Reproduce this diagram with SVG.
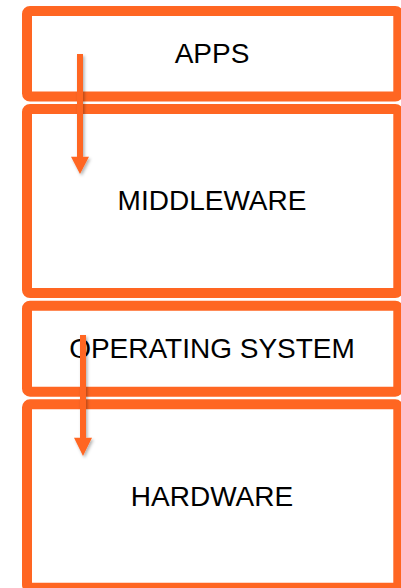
<svg xmlns="http://www.w3.org/2000/svg" width="401" height="588" viewBox="0 0 401 588">
  <style>
    .box { fill: #ffffff; stroke: #ff6622; stroke-width: 10; }
    .label { font-family: "Liberation Sans", Arial, sans-serif; font-size: 28px; fill: #000000; text-anchor: middle; }
    .arrow { fill: #ff6622; }
  </style>
  <defs>
    <filter id="shadow" x="-50%" y="-10%" width="200%" height="130%">
      <feDropShadow dx="1.5" dy="2" stdDeviation="1.5" flood-color="#000000" flood-opacity="0.3"/>
    </filter>
  </defs>

  <g id="apps">
    <rect class="box" x="27" y="11" width="371.3" height="85.5" rx="3"/>
    <text class="label" x="212" y="63.3">APPS</text>
  </g>

  <g id="middleware">
    <rect class="box" x="27" y="109" width="371.3" height="184" rx="3"/>
    <text class="label" x="212" y="210">MIDDLEWARE</text>
  </g>

  <g id="operating-system">
    <rect class="box" x="27" y="305.7" width="371.3" height="86" rx="3"/>
    <text class="label" x="212" y="358.3">OPERATING SYSTEM</text>
  </g>

  <g id="hardware">
    <rect class="box" x="27" y="404.3" width="371.3" height="183.4" rx="3"/>
    <text class="label" x="212" y="506">HARDWARE</text>
  </g>

  <g id="connectors" filter="url(#shadow)">
    <path class="arrow" d="M77,54 H83 V156.7 H89 L80,174 L71,156.7 H77 Z"/>
    <path class="arrow" d="M80,335 H86 V437.7 H92 L83,456 L74,437.7 H80 Z"/>
  </g>
</svg>
